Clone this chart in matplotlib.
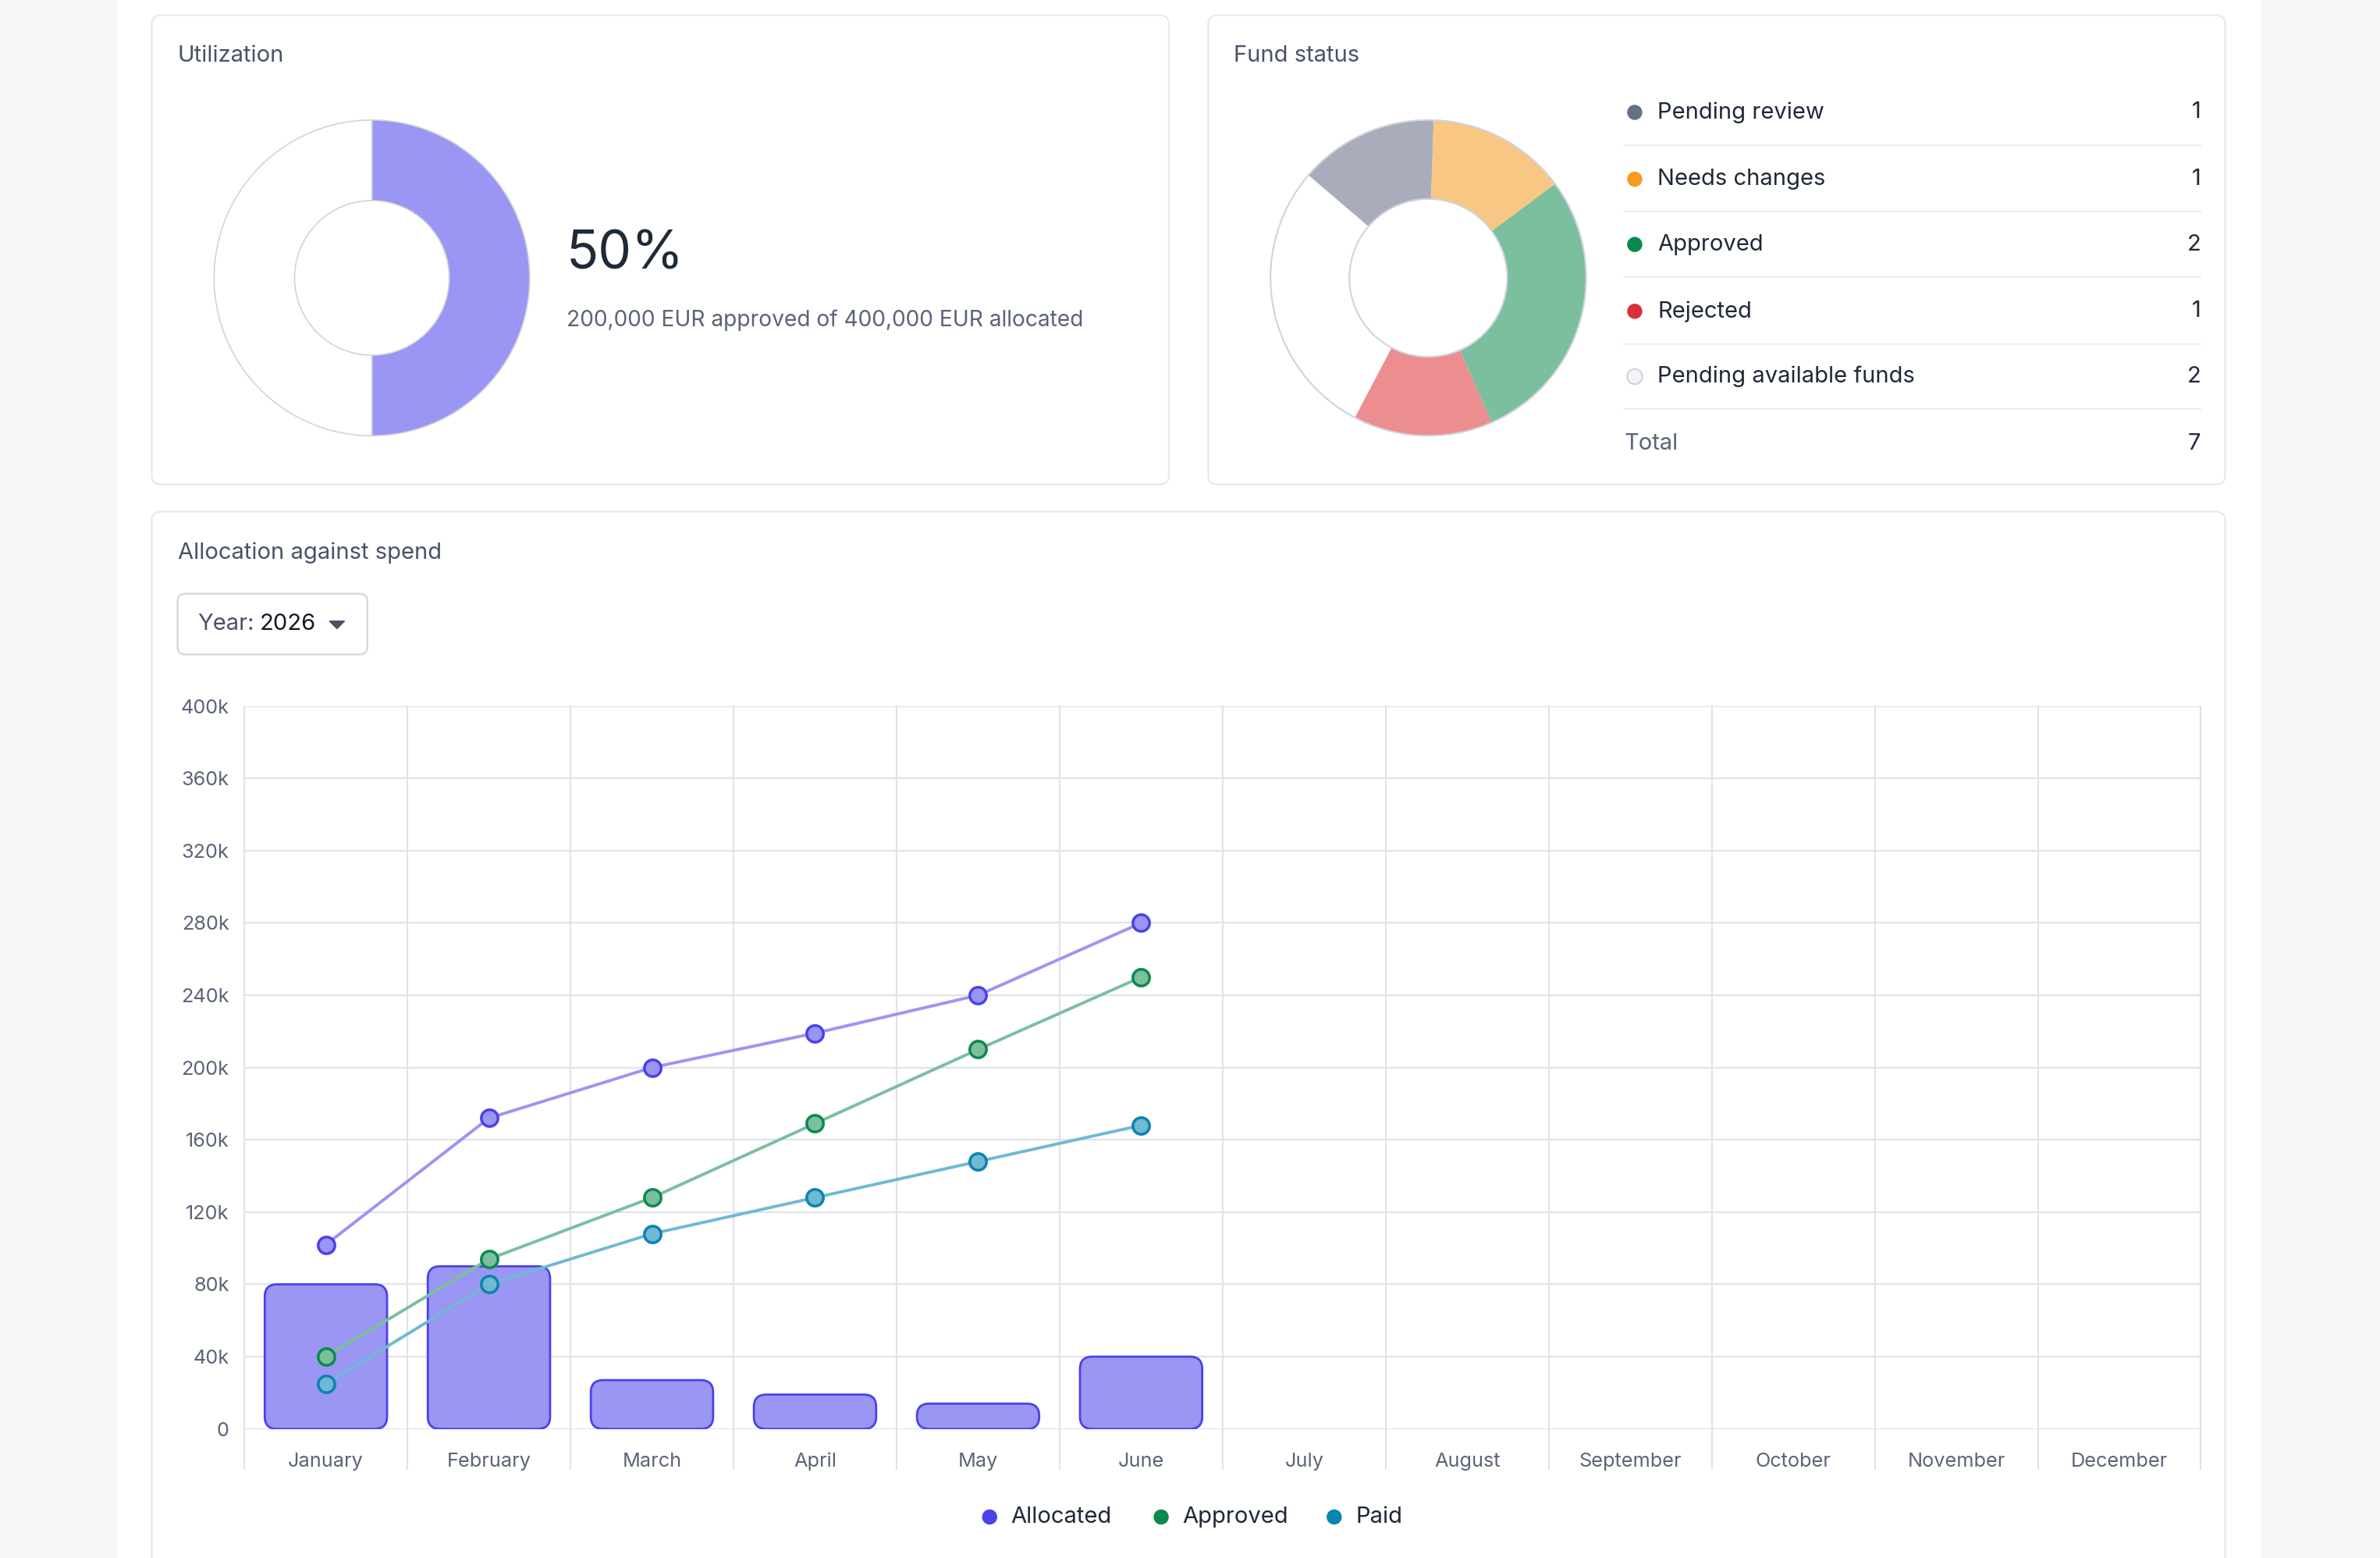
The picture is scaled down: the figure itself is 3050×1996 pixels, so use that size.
import matplotlib
matplotlib.use("Agg")
import matplotlib.pyplot as plt
from matplotlib.patches import FancyBboxPatch, Rectangle, Circle

plt.rcParams["font.family"] = ["Inter", "DejaVu Sans"]

# ---- data ----
months = ["January", "February", "March", "April", "May", "June", "July",
          "August", "September", "October", "November", "December"]
bar_allocated = [80000, 90000, 27000, 19000, 14000, 40000]
line_allocated = [102000, 172000, 200000, 219000, 240000, 280000]
line_approved = [40000, 94000, 128000, 169000, 210000, 250000]
line_paid = [25000, 80000, 108000, 128000, 148000, 168000]
y_ticks = [0, 40000, 80000, 120000, 160000, 200000, 240000, 280000, 320000, 360000, 400000]

status_labels = ["Pending review", "Needs changes", "Approved", "Rejected", "Pending available funds"]
status_counts = [1, 1, 2, 1, 2]
status_dot = ["#667085", "#f79a1f", "#0b8a4e", "#dc2f38", "#f2f4f7"]
status_fill = ["#a9adbb", "#f9c784", "#7bbf9e", "#ec8d8f", "#ffffff"]

util_pct = 50

# ---- layout helpers (reference in 1568x1026 display px) ----
W, H = 1568, 1026
fig = plt.figure(figsize=(30.5, 19.96), dpi=100)
fig.patch.set_facecolor("#f5f6f8")
S = 3050 / W

def ax_px(x0, y0, x1, y1):
    return fig.add_axes([x0 / W, 1 - y1 / H, (x1 - x0) / W, (y1 - y0) / H])

def fs(px):
    return px * S * 72 / 100

bg = ax_px(0, 0, W, H)
bg.set_xlim(0, W); bg.set_ylim(H, 0); bg.axis("off")
bg.add_patch(Rectangle((77, 0), 1413, H, facecolor="white", edgecolor="none"))
for (x0, y0, x1, y1) in [(100, 10, 770, 319), (796, 10, 1466, 319), (100, 337, 1466, 1040)]:
    bg.add_patch(FancyBboxPatch((x0, y0), x1 - x0, y1 - y0, boxstyle="round,pad=0,rounding_size=6",
                                facecolor="white", edgecolor="#e6e8ec", lw=1.5))
title_c = "#4a5268"
bg.text(117, 37, "Utilization", fontsize=fs(15), color=title_c, va="center")
bg.text(813, 37, "Fund status", fontsize=fs(15), color=title_c, va="center")
bg.text(117, 364, "Allocation against spend", fontsize=fs(15), color=title_c, va="center")

# utilization text
bg.text(373, 168, f"{util_pct}%", fontsize=fs(35), color="#1f2937", va="center")
bg.text(373, 211, "200,000 EUR approved of 400,000 EUR allocated", fontsize=fs(14.5), color="#5b6478", va="center")

# fund status legend
rows_y = [74, 118, 161, 205, 248]
for i, (lab, cnt) in enumerate(zip(status_labels, status_counts)):
    y = rows_y[i]
    bg.add_patch(Circle((1077, y), 5, facecolor=status_dot[i],
                        edgecolor="#cdd3dc" if i == 4 else "none", lw=1.5))
    bg.text(1092, y, lab, fontsize=fs(15), color="#1f2937", va="center")
    bg.text(1450, y, str(cnt), fontsize=fs(15), color="#1f2937", va="center", ha="right")
    bg.plot([1070, 1450], [y + 21.5, y + 21.5], color="#eceef2", lw=1.5)
bg.text(1070, 292, "Total", fontsize=fs(15), color="#5b6478", va="center")
bg.text(1450, 292, str(sum(status_counts)), fontsize=fs(15), color="#1f2937", va="center", ha="right")

# year dropdown
bg.add_patch(FancyBboxPatch((117, 391), 125, 40, boxstyle="round,pad=0,rounding_size=5",
                            facecolor="white", edgecolor="#cfd4dc", lw=1.5))
bg.text(130, 411, "Year:", fontsize=fs(15), color="#4a5268", va="center")
bg.text(171, 411, "2026", fontsize=fs(15), color="#111827", va="center")
bg.fill([217, 227, 222], [409, 409, 414], color="#4a5268")

# legend bottom
for x, lab, c in [(652, "Allocated", "#4a42e8"), (765, "Approved", "#0b8a4e"), (879, "Paid", "#0a84b0")]:
    bg.add_patch(Circle((x, 999), 5, facecolor=c, edgecolor="none"))
    bg.text(x + 14, 999, lab, fontsize=fs(15), color="#1f2937", va="center")

# ---- utilization donut ----
a1 = ax_px(245 - 105, 183 - 105, 245 + 105, 183 + 105)
a1.pie([util_pct, 100 - util_pct], colors=["#9b95f3", "white"], startangle=90, counterclock=False,
       wedgeprops=dict(width=0.51, edgecolor="#cfd4dc", linewidth=1.2))
a1.set_xlim(-1.01, 1.01); a1.set_ylim(-1.01, 1.01)

# ---- fund status donut ----
a2 = ax_px(941 - 105, 183 - 105, 941 + 105, 183 + 105)
order = [0, 4, 3, 2, 1]
a2.pie([status_counts[i] for i in order], colors=[status_fill[i] for i in order], startangle=88,
       counterclock=True, wedgeprops=dict(width=0.5, edgecolor="none"))
a2.add_patch(Circle((0, 0), 1, fill=False, edgecolor="#cfd4dc", lw=1.5))
a2.add_patch(Circle((0, 0), 0.5, fill=False, edgecolor="#cfd4dc", lw=1.5))
a2.set_xlim(-1.01, 1.01); a2.set_ylim(-1.01, 1.01)

# ---- allocation chart ----
ax = ax_px(161, 465, 1450, 941)
ax.set_xlim(0, 12)
ax.set_ylim(0, 400000)
ax.set_facecolor("none")
grid_c = "#dfe2ea"
for t in y_ticks:
    ax.axhline(t, color=grid_c, lw=1.5, zorder=0)
for i in range(13):
    ax.plot([i, i], [-22000, 400000], color=grid_c, lw=1.5, zorder=0, clip_on=False)
for s in ax.spines.values():
    s.set_visible(False)
ax.set_yticks(y_ticks)
ax.set_yticklabels(["0" if t == 0 else f"{t // 1000}k" for t in y_ticks])
ax.set_xticks([i + 0.5 for i in range(12)])
ax.set_xticklabels(months)
ax.tick_params(length=0, colors="#5b6478", labelsize=fs(13), pad=14)
ax.tick_params(axis="x", pad=fs(13) * 1.2)

aspect = (400000 / 476) / (12 / 1289)
bw = 0.75
for i, v in enumerate(bar_allocated):
    ax.add_patch(FancyBboxPatch((i + 0.5 - bw / 2, 0), bw, v,
                                boxstyle="round,pad=0,rounding_size=0.075", mutation_aspect=aspect,
                                facecolor="#9b95f3", edgecolor="#4a42e8", lw=2, zorder=2))

xs = [i + 0.5 for i in range(6)]
for vals, lc, mc in [(line_allocated, "#9b95f3", "#4a42e8"),
                     (line_approved, "#7bbf9e", "#0b8a4e"),
                     (line_paid, "#6fb9d3", "#0a84b0")]:
    ax.plot(xs, vals, color=lc, lw=fs(2), zorder=3)
    ax.plot(xs, vals, "o", ms=fs(11), mfc=lc, mec=mc, mew=fs(1.8), zorder=4)

fig.savefig("out.png", dpi=100, facecolor=fig.get_facecolor())
